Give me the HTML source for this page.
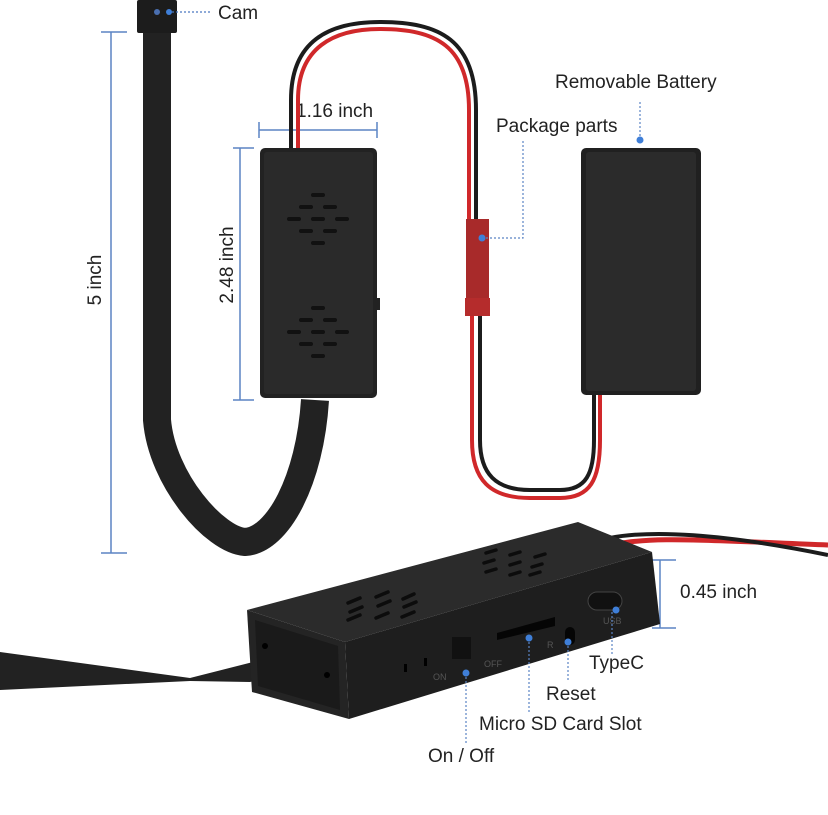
<!DOCTYPE html>
<html><head><meta charset="utf-8"><style>
html,body{margin:0;padding:0;background:#fff;}
svg{display:block;}
text{font-family:"Liberation Sans",sans-serif;fill:#222;}
</style></head><body>
<svg width="828" height="815" viewBox="0 0 828 815" xmlns="http://www.w3.org/2000/svg">
<rect width="828" height="815" fill="#fff"/>
<!-- ribbon cable -->
<path d="M157 30 L157 420 C162 480 215 540 245 542 C278 540 310 480 315 400" fill="none" stroke="#222" stroke-width="28"/>
<!-- cam -->
<rect x="137" y="0" width="40" height="33" rx="2" fill="#1c1c1c"/>
<circle cx="157" cy="12" r="3" fill="#4a6fb0"/>
<circle cx="169" cy="12" r="3" fill="#3f7fd8"/>
<line x1="172" y1="12" x2="212" y2="12" stroke="#4a78c0" stroke-width="1.2" stroke-dasharray="2,2"/>
<text x="218" y="19" font-size="19">Cam</text>
<!-- dimensions -->
<g stroke="#5b84c4" stroke-width="1.5">
<line x1="111" y1="32" x2="111" y2="553"/><line x1="101" y1="32" x2="127" y2="32"/><line x1="101" y1="553" x2="127" y2="553"/>
<line x1="240" y1="148" x2="240" y2="400"/><line x1="233" y1="148" x2="254" y2="148"/><line x1="233" y1="400" x2="254" y2="400"/>
<line x1="259" y1="130" x2="377" y2="130"/><line x1="259" y1="122" x2="259" y2="138"/><line x1="377" y1="122" x2="377" y2="138"/>
<line x1="660" y1="560" x2="660" y2="628"/><line x1="652" y1="560" x2="676" y2="560"/><line x1="652" y1="628" x2="676" y2="628"/>
</g>
<text transform="translate(101,280) rotate(-90)" font-size="19" text-anchor="middle">5 inch</text>
<text transform="translate(233,265) rotate(-90)" font-size="19" text-anchor="middle">2.48 inch</text>
<text x="296" y="117" font-size="19">1.16 inch</text>
<!-- wires top loop -->
<path d="M291 150 L291 100 C291 40 330 22 380 22 C440 22 476 40 476 110 L476 220" fill="none" stroke="#1c1c1c" stroke-width="4"/>
<path d="M298 150 L298 100 C298 48 333 29 380 29 C436 29 469 46 469 110 L469 220" fill="none" stroke="#d0282a" stroke-width="4"/>
<path d="M472 315 L472 440 C472 480 490 498 530 498 L560 498 C590 498 600 480 600 440 L600 395" fill="none" stroke="#d0282a" stroke-width="4"/>
<path d="M480 315 L480 440 C480 474 496 490 530 490 L560 490 C586 490 594 474 594 440 L594 395" fill="none" stroke="#1c1c1c" stroke-width="4"/>
<!-- connector -->
<rect x="466" y="219" width="23" height="80" fill="#a82a2a"/>
<rect x="465" y="298" width="25" height="18" fill="#b52c2c"/>
<circle cx="482" cy="238" r="3.5" fill="#3f7fd8"/>
<path d="M486 238 L523 238 L523 140" fill="none" stroke="#5b84c4" stroke-width="1.2" stroke-dasharray="2,2"/>
<text x="496" y="132" font-size="19">Package parts</text>
<!-- battery -->
<rect x="581" y="148" width="120" height="247" rx="5" fill="#202020"/>
<rect x="586" y="152" width="110" height="239" rx="3" fill="#2b2b2b"/>
<circle cx="640" cy="140" r="3.5" fill="#3f7fd8"/>
<line x1="640" y1="136" x2="640" y2="100" stroke="#5b84c4" stroke-width="1.2" stroke-dasharray="2,2"/>
<text x="555" y="88" font-size="19">Removable Battery</text>
<!-- module 1 -->
<rect x="260" y="148" width="117" height="250" rx="5" fill="#222"/>
<rect x="264" y="152" width="109" height="242" rx="3" fill="#2a2a2a"/>
<rect x="377" y="298" width="3" height="12" fill="#222"/>
<g fill="#111">
<rect x="311" y="193" width="14" height="4" rx="2"/>
<rect x="299" y="205" width="14" height="4" rx="2"/><rect x="323" y="205" width="14" height="4" rx="2"/>
<rect x="287" y="217" width="14" height="4" rx="2"/><rect x="311" y="217" width="14" height="4" rx="2"/><rect x="335" y="217" width="14" height="4" rx="2"/>
<rect x="299" y="229" width="14" height="4" rx="2"/><rect x="323" y="229" width="14" height="4" rx="2"/>
<rect x="311" y="241" width="14" height="4" rx="2"/>
<rect x="311" y="306" width="14" height="4" rx="2"/>
<rect x="299" y="318" width="14" height="4" rx="2"/><rect x="323" y="318" width="14" height="4" rx="2"/>
<rect x="287" y="330" width="14" height="4" rx="2"/><rect x="311" y="330" width="14" height="4" rx="2"/><rect x="335" y="330" width="14" height="4" rx="2"/>
<rect x="299" y="342" width="14" height="4" rx="2"/><rect x="323" y="342" width="14" height="4" rx="2"/>
<rect x="311" y="354" width="14" height="4" rx="2"/>
</g>
<!-- bottom wires -->
<path d="M600 548 C640 535 700 540 828 545" fill="none" stroke="#d0282a" stroke-width="5"/>
<path d="M610 538 C650 530 720 533 828 555" fill="none" stroke="#1c1c1c" stroke-width="4"/>
<!-- bottom ribbon -->
<polygon points="0,652 190,678 300,650 312,668 250,682 190,681 0,690" fill="#222"/>
<!-- bottom device -->
<polygon points="247,610 578,522 652,552 345,642" fill="#2b2b2b"/>
<polygon points="345,642 652,552 660,624 349,719" fill="#1e1e1e"/>
<polygon points="247,610 345,642 349,719 252,692" fill="#242424"/>
<polygon points="255,620 338,646 340,710 258,686" fill="#1a1a1a"/>
<circle cx="265" cy="646" r="3" fill="#000"/><circle cx="327" cy="675" r="3" fill="#000"/>
<g stroke="#0c0c0c" stroke-width="3.5" stroke-linecap="round">
<line x1="348" y1="603" x2="360" y2="598"/><line x1="376" y1="597" x2="388" y2="592"/><line x1="403" y1="599" x2="414" y2="594"/>
<line x1="350" y1="612" x2="362" y2="607"/><line x1="378" y1="606" x2="390" y2="601"/><line x1="404" y1="607" x2="416" y2="602"/>
<line x1="348" y1="620" x2="360" y2="615"/><line x1="376" y1="618" x2="388" y2="613"/><line x1="402" y1="617" x2="414" y2="612"/>
<line x1="486" y1="553" x2="496" y2="550"/><line x1="510" y1="555" x2="520" y2="552"/><line x1="535" y1="557" x2="545" y2="554"/>
<line x1="484" y1="563" x2="494" y2="560"/><line x1="510" y1="565" x2="520" y2="562"/><line x1="532" y1="567" x2="542" y2="564"/>
<line x1="486" y1="572" x2="496" y2="569"/><line x1="510" y1="575" x2="520" y2="572"/><line x1="530" y1="575" x2="540" y2="572"/>
</g>
<rect x="452" y="637" width="19" height="22" fill="#111"/>
<polygon points="497,633 555,617 555,626 497,640" fill="#050505"/>
<rect x="565" y="627" width="10" height="18" rx="5" fill="#050505"/>
<rect x="588" y="592" width="34" height="18" rx="9" fill="#111" stroke="#444"/>
<rect x="404" y="664" width="3" height="8" fill="#000"/><rect x="424" y="658" width="3" height="8" fill="#000"/>
<g font-size="9"><text x="433" y="680" style="fill:#555">ON</text><text x="484" y="667" style="fill:#555">OFF</text><text x="547" y="648" style="fill:#555">R</text><text x="603" y="624" style="fill:#555">USB</text></g>
<!-- bottom callouts -->
<g fill="#3f7fd8"><circle cx="616" cy="610" r="3.5"/><circle cx="568" cy="642" r="3.5"/><circle cx="529" cy="638" r="3.5"/><circle cx="466" cy="673" r="3.5"/></g>
<g stroke="#5b84c4" stroke-width="1.2" stroke-dasharray="2,2">
<line x1="612" y1="612" x2="612" y2="654"/><line x1="568" y1="646" x2="568" y2="682"/><line x1="529" y1="642" x2="529" y2="712"/><line x1="466" y1="677" x2="466" y2="743"/>
</g>
<text x="680" y="598" font-size="19">0.45 inch</text>
<text x="589" y="669" font-size="19">TypeC</text>
<text x="546" y="700" font-size="19">Reset</text>
<text x="479" y="730" font-size="19">Micro SD Card Slot</text>
<text x="428" y="762" font-size="19">On / Off</text>
</svg>
</body></html>
